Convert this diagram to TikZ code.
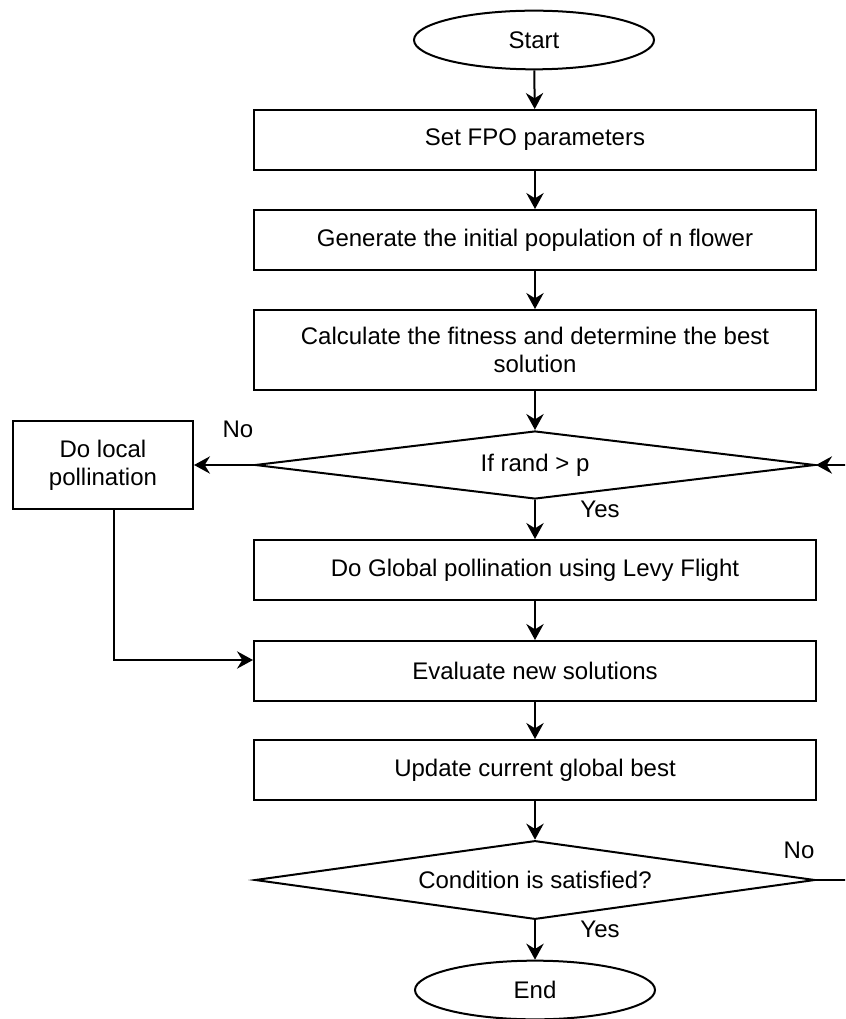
\documentclass[tikz,border=0pt]{standalone}
\usepackage{fontspec}
\setmainfont{Liberation Sans}
\usetikzlibrary{shapes.geometric,arrows.meta}
\begin{document}
\begin{tikzpicture}[x=0.75pt,y=-0.75pt,
  font=\fontsize{18pt}{21pt}\selectfont,
  every node/.style={inner sep=0pt},
  procbox/.style={draw,line width=1.5pt,rectangle,minimum width=421.5pt,minimum height=45pt,align=center},
  termnode/.style={draw,line width=1.5pt,ellipse,minimum width=180pt,minimum height=44pt},
  decide/.style={draw,line width=1.5pt,diamond,aspect=8.2,minimum width=420pt,minimum height=51pt},
  lbl/.style={font=\fontsize{18pt}{21pt}\selectfont},
  arr/.style={line width=1.5pt,-{Stealth[length=12pt,width=13pt,inset=4pt]}},
  ln/.style={line width=1.5pt}]
\useasboundingbox (0,0) rectangle (845,1019);
\clip (0,0) rectangle (845,1019);
\node[termnode] (start) at (534,40) {Start};
\node[procbox] (b1) at (535,140) {Set FPO parameters};
\node[procbox] (b2) at (535,240) {Generate the initial population of n flower};
\node[procbox,minimum height=60pt] (b3) at (535,350) {Calculate the fitness and determine the best\\solution};
\node[decide] (d1) at (535,465) {If rand > p};
\node[draw,line width=1.5pt,rectangle,minimum width=135pt,minimum height=66pt,align=center] (local) at (103,465) {Do local\\pollination};
\node[procbox] (b4) at (535,570) {Do Global pollination using Levy Flight};
\node[procbox] (b5) at (535,671) {Evaluate new solutions};
\node[procbox] (b6) at (535,770) {Update current global best};
\node[decide,minimum height=59pt,aspect=7.1] (d2) at (535,880) {Condition is satisfied?};
\node[termnode] (end) at (535,990) {End};
\coordinate (r2) at (870,880);
\coordinate (r1) at (870,465);
\draw[arr] (start) -- (b1);
\draw[arr] (b1) -- (b2);
\draw[arr] (b2) -- (b3);
\draw[arr] (b3) -- (d1);
\draw[arr] (d1) -- (b4);
\draw[arr] (b4) -- (b5);
\draw[arr] (b5) -- (b6);
\draw[arr] (b6) -- (d2);
\draw[arr] (d2) -- (end);
\draw[arr] (d1.west) -- (local.east);
\draw[arr] ([xshift=8.25pt]local.south) |- ([yshift=8.25pt]b5.west);
\draw[arr] (d2.east) -- (r2) -- (r1) -- (d1.east);
\node[lbl] (no1) at (238,429) {No};
\node[lbl] (yes1) at (600,509) {Yes};
\node[lbl] (no2) at (799,850) {No};
\node[lbl] (yes2) at (600,929) {Yes};
\end{tikzpicture}
\end{document}
